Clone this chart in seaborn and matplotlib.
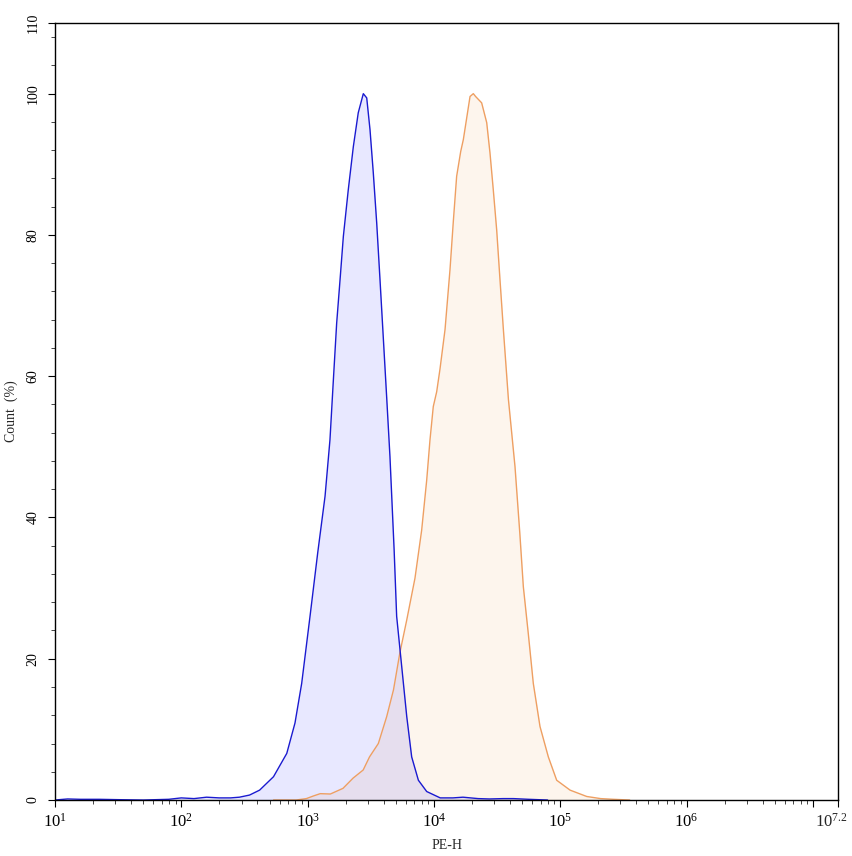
import numpy as np
import pandas as pd
import matplotlib
matplotlib.use("Agg")
import matplotlib.pyplot as plt
import seaborn as sns

# histogram outlines, x given as log10(PE-H)
blue_log = [1.0, 1.1, 1.2, 1.35, 1.5, 1.7, 1.9, 2.0, 2.1, 2.2,
            2.3, 2.39, 2.46, 2.54, 2.62, 2.73, 2.835, 2.9, 2.953, 3.019,
            3.08, 3.138, 3.177, 3.204, 3.23, 3.257, 3.283, 3.322, 3.362, 3.401,
            3.441, 3.468, 3.494, 3.52, 3.547, 3.573, 3.60, 3.626, 3.652, 3.685,
            3.705, 3.745, 3.785, 3.824, 3.877, 3.943, 4.05, 4.15, 4.23, 4.35,
            4.44, 4.55, 4.63, 4.75, 4.9]
blue_count = [0.0, 0.15, 0.1, 0.1, 0.05, 0.0, 0.1, 0.3, 0.2, 0.4,
              0.3, 0.3, 0.4, 0.7, 1.4, 3.3, 6.6, 10.9, 16.5, 26.0,
              35.0, 43.0, 51.0, 59.5, 67.5, 73.7, 79.8, 86.4, 92.5, 97.3,
              100.0, 99.4, 94.9, 88.8, 81.7, 73.7, 65.2, 57.0, 48.6, 35.4,
              26.0, 18.9, 11.8, 6.1, 2.8, 1.2, 0.3, 0.3, 0.4, 0.2,
              0.15, 0.2, 0.2, 0.1, 0.0]

orange_log = [2.73, 2.91, 2.99, 3.05, 3.1, 3.18, 3.28, 3.36, 3.44, 3.49,
              3.56, 3.626, 3.68, 3.73, 3.785, 3.85, 3.903, 3.943, 3.969, 3.995,
              4.022, 4.048, 4.088, 4.127, 4.154, 4.18, 4.212, 4.233, 4.286, 4.312,
              4.33, 4.378, 4.418, 4.444, 4.47, 4.497, 4.523, 4.55, 4.59, 4.642,
              4.68, 4.708, 4.747, 4.787, 4.84, 4.906, 4.972, 5.078, 5.21, 5.32,
              5.42, 5.55]
orange_count = [0.0, 0.0, 0.2, 0.6, 0.9, 0.85, 1.65, 3.1, 4.25, 6.1,
                8.0, 11.8, 15.6, 20.8, 25.5, 31.4, 38.2, 45.3, 51.0, 55.7,
                57.8, 61.0, 66.6, 75.0, 82.0, 88.3, 91.8, 93.5, 99.6, 100.0,
                99.6, 98.7, 95.9, 91.6, 86.4, 80.7, 73.7, 66.6, 56.7, 47.2,
                37.8, 30.2, 23.6, 16.5, 10.4, 6.1, 2.8, 1.4, 0.5, 0.2,
                0.1, 0.0]

x_major = [1, 2, 3, 4, 5, 6, 7, 7.2]
x_labelled = [1, 2, 3, 4, 5, 6]
x_end = 7.2
y_major = [0, 20, 40, 60, 80, 100, 110]

sns.set_style("ticks")
plt.rcParams['font.family'] = ['Liberation Serif', 'DejaVu Serif']
plt.rcParams['mathtext.fontset'] = 'custom'
plt.rcParams['mathtext.rm'] = 'Liberation Serif'
plt.rcParams['mathtext.it'] = 'Liberation Serif:italic'

blue = pd.DataFrame({'PE-H': 10 ** np.array(blue_log), 'Count': blue_count})
orange = pd.DataFrame({'PE-H': 10 ** np.array(orange_log), 'Count': orange_count})

fig = plt.figure(figsize=(8.53, 8.56), dpi=100)
ax = fig.add_axes([0.0645, 0.0654, 0.918, 0.9077])

# fills first, outlines on top
ax.fill_between(orange['PE-H'], orange['Count'], color='#f0a050', alpha=0.1, lw=0)
ax.fill_between(blue['PE-H'], blue['Count'], color='#0000ff', alpha=0.09, lw=0)
sns.lineplot(data=orange, x='PE-H', y='Count', ax=ax, color='#ee9f62', lw=1, sort=False)
sns.lineplot(data=blue, x='PE-H', y='Count', ax=ax, color='#1a1ad0', lw=1, sort=False)

ax.set_xscale('log')
ax.set_xlim(10 ** 1, 10 ** x_end)
ax.set_ylim(0, 110)

ax.set_xticks([10 ** e for e in x_major])
ax.set_xticklabels([r'$10^{%g}$' % e if e in x_labelled else '' for e in x_major], fontsize=12)
minor_x = [m * 10 ** d for d in range(1, 8) for m in range(2, 10) if m * 10 ** d < 10 ** x_end]
ax.set_xticks(minor_x, minor=True)
ax.set_xticklabels([], minor=True)

# end label nudged left so the figure edge doesn't clip it
ax.annotate(r'$10^{%g}$' % x_end, xy=(10 ** x_end, 0), xycoords=('data', 'axes fraction'),
            xytext=(-5, -9), textcoords='offset points', ha='center', va='top', fontsize=12)

ax.set_yticks(y_major)
ax.set_yticklabels([str(v) for v in y_major], rotation=90, va='center', fontsize=10)
ax.set_yticks([v for v in range(4, 110, 4) if v % 20 != 0], minor=True)

ax.tick_params(axis='both', which='major', direction='out', length=5, width=0.8, colors='black')
ax.tick_params(axis='both', which='minor', direction='out', length=3, width=0.6)
ax.tick_params(axis='x', which='major', pad=4)
ax.tick_params(axis='y', which='major', pad=6)

for side in ['top', 'right', 'left', 'bottom']:
    ax.spines[side].set_visible(True)
    ax.spines[side].set_color('black')
    ax.spines[side].set_linewidth(1.0)

ax.set_xlabel('PE-H', fontsize=10, labelpad=6)
ax.set_ylabel('Count  (%)', fontsize=10, labelpad=6)

fig.savefig('out.png', dpi=100)
